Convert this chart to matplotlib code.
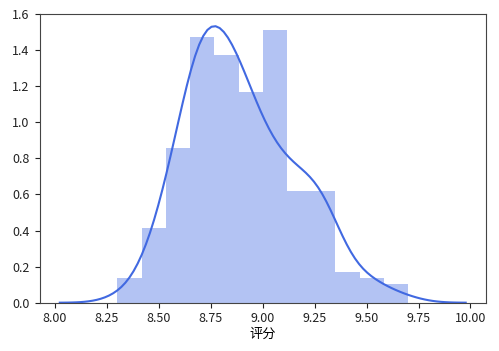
import numpy as np
import matplotlib
matplotlib.use("Agg")
import matplotlib.pyplot as plt

plt.rcParams['font.family'] = ['Noto Sans CJK SC', 'DejaVu Sans']
plt.rcParams['axes.unicode_minus'] = False

# rating values and how many items have each rating
ratings = [8.3, 8.4, 8.5, 8.6, 8.7, 8.8, 8.9, 9.0, 9.1, 9.2, 9.3, 9.4, 9.5, 9.6, 9.7]
counts = [1, 3, 12, 25, 43, 40, 34, 24, 20, 18, 18, 5, 4, 2, 1]
n_bins = 12
x_ticks = [8.00, 8.25, 8.50, 8.75, 9.00, 9.25, 9.50, 9.75, 10.00]
y_ticks = [0.0, 0.2, 0.4, 0.6, 0.8, 1.0, 1.2, 1.4, 1.6]
xlabel = "评分"
color = "royalblue"

data = np.repeat(np.array(ratings), counts)

fig = plt.figure(figsize=(4.99, 3.51), dpi=100)
ax = fig.add_axes([39.5 / 499, (351 - 302.7) / 351, 446.5 / 499, 288.7 / 351])

ax.hist(data, bins=n_bins, density=True, color=color, alpha=0.4)

# gaussian KDE (statsmodels-style Scott bandwidth), cut=3, gridsize=100
n = len(data)
q75, q25 = np.percentile(data, [75, 25])
A = min(data.std(ddof=1), (q75 - q25) / 1.349)
bw = 1.059 * A * n ** (-1 / 5)
grid = np.linspace(data.min() - 3 * bw, data.max() + 3 * bw, 100)
dens = np.exp(-0.5 * ((grid[:, None] - data[None, :]) / bw) ** 2).sum(axis=1) / (n * bw * np.sqrt(2 * np.pi))
ax.plot(grid, dens, color=color, lw=1.5)

ax.set_xticks(x_ticks)
ax.set_xticklabels([f"{v:.2f}" for v in x_ticks])
ax.set_yticks(y_ticks)
ax.set_yticklabels([f"{v:.1f}" for v in y_ticks])
ax.set_ylim(0, 1.6)
ax.tick_params(labelsize=9, colors='#222222')
for s in ax.spines.values():
    s.set_color('#444444')
ax.set_xlabel(xlabel, fontsize=9.5, labelpad=2)

fig.savefig("out.png", dpi=100)
